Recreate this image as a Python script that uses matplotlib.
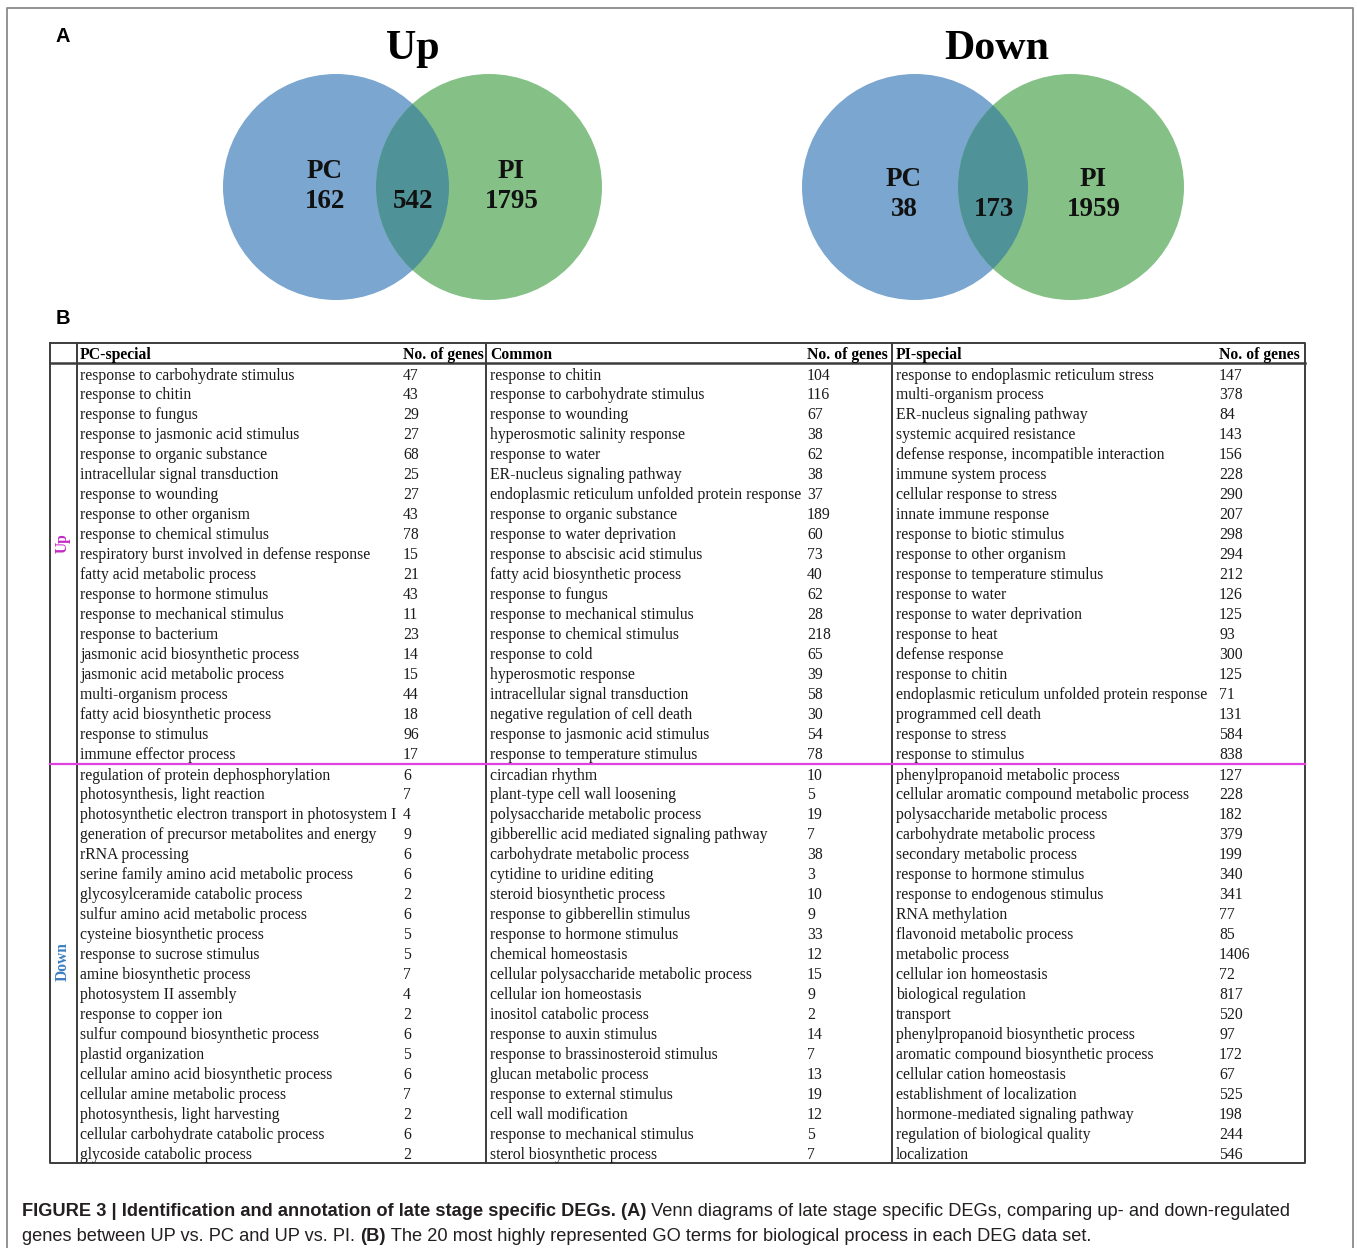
import matplotlib
matplotlib.use("Agg")
import matplotlib.pyplot as plt
from matplotlib.patches import Circle

# --- Venn counts -----------------------------------------------------------
venn_titles = ["Up", "Down"]
pc_only = [162, 38]
shared = [542, 173]
pi_only = [1795, 1959]

# --- GO term tables (top 20 per set) ---------------------------------------
up_pc_terms = [
    "response to carbohydrate stimulus", "response to chitin", "response to fungus",
    "response to jasmonic acid stimulus", "response to organic substance",
    "intracellular signal transduction", "response to wounding",
    "response to other organism", "response to chemical stimulus",
    "respiratory burst involved in defense response", "fatty acid metabolic process",
    "response to hormone stimulus", "response to mechanical stimulus",
    "response to bacterium", "jasmonic acid biosynthetic process",
    "jasmonic acid metabolic process", "multi-organism process",
    "fatty acid biosynthetic process", "response to stimulus", "immune effector process",
]
up_pc_counts = [47, 43, 29, 27, 68, 25, 27, 43, 78, 15, 21, 43, 11, 23, 14, 15, 44, 18, 96, 17]

up_common_terms = [
    "response to chitin", "response to carbohydrate stimulus", "response to wounding",
    "hyperosmotic salinity response", "response to water", "ER-nucleus signaling pathway",
    "endoplasmic reticulum unfolded protein response", "response to organic substance",
    "response to water deprivation", "response to abscisic acid stimulus",
    "fatty acid biosynthetic process", "response to fungus",
    "response to mechanical stimulus", "response to chemical stimulus", "response to cold",
    "hyperosmotic response", "intracellular signal transduction",
    "negative regulation of cell death", "response to jasmonic acid stimulus",
    "response to temperature stimulus",
]
up_common_counts = [104, 116, 67, 38, 62, 38, 37, 189, 60, 73, 40, 62, 28, 218, 65, 39, 58, 30, 54, 78]

up_pi_terms = [
    "response to endoplasmic reticulum stress", "multi-organism process",
    "ER-nucleus signaling pathway", "systemic acquired resistance",
    "defense response, incompatible interaction", "immune system process",
    "cellular response to stress", "innate immune response", "response to biotic stimulus",
    "response to other organism", "response to temperature stimulus", "response to water",
    "response to water deprivation", "response to heat", "defense response",
    "response to chitin", "endoplasmic reticulum unfolded protein response",
    "programmed cell death", "response to stress", "response to stimulus",
]
up_pi_counts = [147, 378, 84, 143, 156, 228, 290, 207, 298, 294, 212, 126, 125, 93, 300, 125, 71, 131, 584, 838]

down_pc_terms = [
    "regulation of protein dephosphorylation", "photosynthesis, light reaction",
    "photosynthetic electron transport in photosystem I",
    "generation of precursor metabolites and energy", "rRNA processing",
    "serine family amino acid metabolic process", "glycosylceramide catabolic process",
    "sulfur amino acid metabolic process", "cysteine biosynthetic process",
    "response to sucrose stimulus", "amine biosynthetic process", "photosystem II assembly",
    "response to copper ion", "sulfur compound biosynthetic process", "plastid organization",
    "cellular amino acid biosynthetic process", "cellular amine metabolic process",
    "photosynthesis, light harvesting", "cellular carbohydrate catabolic process",
    "glycoside catabolic process",
]
down_pc_counts = [6, 7, 4, 9, 6, 6, 2, 6, 5, 5, 7, 4, 2, 6, 5, 6, 7, 2, 6, 2]

down_common_terms = [
    "circadian rhythm", "plant-type cell wall loosening", "polysaccharide metabolic process",
    "gibberellic acid mediated signaling pathway", "carbohydrate metabolic process",
    "cytidine to uridine editing", "steroid biosynthetic process",
    "response to gibberellin stimulus", "response to hormone stimulus",
    "chemical homeostasis", "cellular polysaccharide metabolic process",
    "cellular ion homeostasis", "inositol catabolic process", "response to auxin stimulus",
    "response to brassinosteroid stimulus", "glucan metabolic process",
    "response to external stimulus", "cell wall modification",
    "response to mechanical stimulus", "sterol biosynthetic process",
]
down_common_counts = [10, 5, 19, 7, 38, 3, 10, 9, 33, 12, 15, 9, 2, 14, 7, 13, 19, 12, 5, 7]

down_pi_terms = [
    "phenylpropanoid metabolic process", "cellular aromatic compound metabolic process",
    "polysaccharide metabolic process", "carbohydrate metabolic process",
    "secondary metabolic process", "response to hormone stimulus",
    "response to endogenous stimulus", "RNA methylation", "flavonoid metabolic process",
    "metabolic process", "cellular ion homeostasis", "biological regulation", "transport",
    "phenylpropanoid biosynthetic process", "aromatic compound biosynthetic process",
    "cellular cation homeostasis", "establishment of localization",
    "hormone-mediated signaling pathway", "regulation of biological quality", "localization",
]
down_pi_counts = [127, 228, 182, 379, 199, 340, 341, 77, 85, 1406, 72, 817, 520, 97, 172, 67, 525, 198, 244, 546]

headers = ["PC-special", "Common", "PI-special"]

SERIF = "Liberation Serif"
SANS = "Liberation Sans"
BLUE, GREEN, OVERLAP = "#7aa6cf", "#85c186", "#4f9399"
W, H = 1357, 1248


def pt(px):
    # pixel height -> points at dpi 100
    return px * 0.72


fig = plt.figure(figsize=(W / 100, H / 100), dpi=100)
ax = fig.add_axes([0, 0, 1, 1])
ax.set_xlim(0, W)
ax.set_ylim(H, 0)
ax.axis("off")

# panel frame
ax.plot([7, 7, 1353, 1353], [H + 5, 8, 8, H + 5], color="#8a8a8a", lw=1.3)

ax.text(56, 36, "A", fontsize=pt(20), fontweight="bold", family=SANS, va="center")
ax.text(56, 318, "B", fontsize=pt(20), fontweight="bold", family=SANS, va="center")

# --- Venn diagrams ---------------------------------------------------------
venn_x = [336, 915]
gap = 153
r = 113
cy = 187
for i, title in enumerate(venn_titles):
    x1 = venn_x[i]
    x2 = x1 + gap + (3 if i else 0)
    c1 = Circle((x1, cy), r, color=BLUE, lw=0)
    c2 = Circle((x2, cy), r, color=GREEN, lw=0)
    ax.add_patch(c1)
    ax.add_patch(c2)
    mid = Circle((x1, cy), r, color=OVERLAP, lw=0)
    ax.add_patch(mid)
    mid.set_clip_path(Circle((x2, cy), r, transform=ax.transData))

    ax.text((x1 + x2) / 2 + (4 if i else 0), 49, title, fontsize=pt(42), fontweight="bold",
            family=SERIF, ha="center", va="center")
    dy = 7 if i else 0
    kw = dict(fontsize=pt(27), fontweight="bold", family=SERIF, ha="center",
              va="center", color="#111111")
    ax.text(x1 - 11, 172 + dy, "PC", **kw)
    ax.text(x1 - 11, 202 + dy, str(pc_only[i]), **kw)
    ax.text((x1 + x2) / 2 + 1, 202 + dy, str(shared[i]), **kw)
    ax.text(x2 + 22, 172 + dy, "PI", **kw)
    ax.text(x2 + 23, 202 + dy, str(pi_only[i]), **kw)

# --- GO table ----------------------------------------------------------------
tbl_l, tbl_r, tbl_t, tbl_b = 50, 1305, 343, 1163
col_lines = [77, 486, 892]
term_x = [80, 490, 896]
count_x = [403, 807, 1219]
line_kw = dict(color="#3c3c3c", lw=1.4)

ax.plot([tbl_l, tbl_r, tbl_r, tbl_l, tbl_l], [tbl_t, tbl_t, tbl_b, tbl_b, tbl_t], **line_kw)
ax.plot([tbl_l, tbl_r], [363, 363], color="#3c3c3c", lw=1.8)
for x in col_lines:
    ax.plot([x, x], [tbl_t, tbl_b], **line_kw)
ax.plot([tbl_l, tbl_r], [763.5, 763.5], color="#e040e0", lw=1.6)

fs_tbl = pt(15.7)
for j, head in enumerate(headers):
    ax.text(term_x[j], 359, head, fontsize=fs_tbl, fontweight="bold", family=SERIF)
    ax.text(count_x[j], 359, "No. of genes", fontsize=fs_tbl, fontweight="bold", family=SERIF)

blocks = [
    (379.5, [(up_pc_terms, up_pc_counts), (up_common_terms, up_common_counts),
             (up_pi_terms, up_pi_counts)]),
    (779.5, [(down_pc_terms, down_pc_counts), (down_common_terms, down_common_counts),
             (down_pi_terms, down_pi_counts)]),
]
step = 19.95
for base, cols in blocks:
    for j, (terms, counts) in enumerate(cols):
        for k, (term, n) in enumerate(zip(terms, counts)):
            y = base + k * step
            ax.text(term_x[j], y, term, fontsize=fs_tbl, family=SERIF, color="#1a1a1a")
            ax.text(count_x[j], y, str(n), fontsize=fs_tbl, family=SERIF, color="#1a1a1a")

ax.text(63, 543, "Up", rotation=90, fontsize=pt(15.5), fontweight="bold", family=SERIF,
        color="#c42bc4", ha="center", va="center")
ax.text(63, 962, "Down", rotation=90, fontsize=pt(15.5), fontweight="bold", family=SERIF,
        color="#3f7fc0", ha="center", va="center")

# --- caption with mixed bold / regular runs ----------------------------------
cap_lines = [
    [("FIGURE 3 | Identification and annotation of late stage specific DEGs. (A)", "bold"),
     (" Venn diagrams of late stage specific DEGs, comparing up- and down-regulated", "normal")],
    [("genes between UP vs. PC and UP vs. PI. ", "normal"), ("(B)", "bold"),
     (" The 20 most highly represented GO terms for biological process in each DEG data set.",
      "normal")],
]
renderer = fig.canvas.get_renderer()
for li, runs in enumerate(cap_lines):
    x = 22
    y = 1216 + li * 25
    for txt, weight in runs:
        t = ax.text(x, y, txt, fontsize=pt(18.3), fontweight=weight, family=SANS,
                    color="#231f20")
        x += t.get_window_extent(renderer).width

fig.savefig("out.png", dpi=100)
